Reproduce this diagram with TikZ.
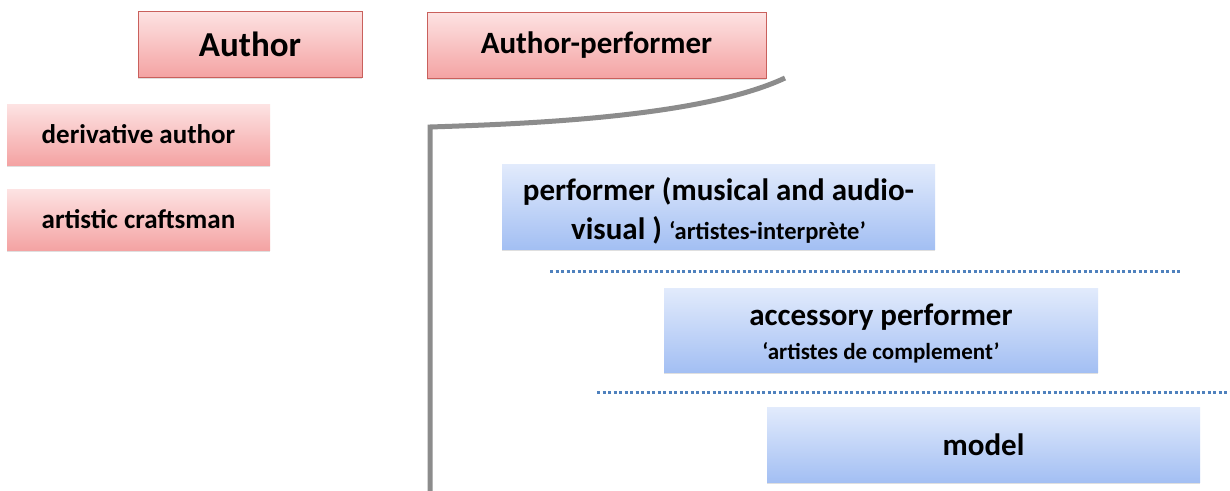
\documentclass[tikz,border=0pt]{standalone}
\usepackage{fontspec}
\setmainfont{Carlito}
\usetikzlibrary{shadows}
\definecolor{pinkT}{HTML}{FDE3E3}
\definecolor{pinkB}{HTML}{F4A3A3}
\definecolor{pinkD}{HTML}{C9605C}
\definecolor{blueT}{HTML}{E2EBFC}
\definecolor{blueB}{HTML}{A3BFF3}
\definecolor{dotblue}{HTML}{4F81BD}
\definecolor{linegray}{HTML}{8C8C8C}
\tikzset{
  pinkbox/.style={rectangle, top color=pinkT, bottom color=pinkB, inner sep=0pt,
    drop shadow={shadow xshift=0pt, shadow yshift=-2pt, opacity=0.25}},
  pinkframed/.style={pinkbox, draw=pinkD, line width=0.8pt},
  bluebox/.style={rectangle, top color=blueT, bottom color=blueB, inner sep=0pt, align=center,
    drop shadow={shadow xshift=0pt, shadow yshift=-2pt, opacity=0.25}},
  boxtext/.style={inner sep=0pt, align=center},
  sep/.style={dotblue, line width=3pt, dash pattern=on 3pt off 2.5pt},
  bar/.style={linegray, line width=5pt},
}
\begin{document}
\begin{tikzpicture}[x=1pt,y=-1pt]
\useasboundingbox (0,0) rectangle (1230,490);
\fill[white] (0,0) rectangle (1230,490);
\node[pinkframed, minimum width=224pt, minimum height=66pt, font=\bfseries\fontsize{35}{40}\selectfont] (author) at (250,44) {Author};
\node[pinkframed, minimum width=339pt, minimum height=66pt, font=\bfseries\fontsize{31}{36}\selectfont] (authperf) at (596.5,45) {Author-performer};
\node[pinkbox, minimum width=263pt, minimum height=61pt, font=\bfseries\fontsize{27}{32}\selectfont] (deriv) at (138.5,134.5) {derivative author};
\node[pinkbox, minimum width=263pt, minimum height=61pt, font=\bfseries\fontsize{27}{32}\selectfont] (craft) at (138.5,219.5) {artistic craftsman};
\node[bluebox, minimum width=433pt, minimum height=85pt] (perf) at (718.5,206.5) {};
\node[boxtext, font=\bfseries\fontsize{31}{39}\selectfont] (perftext) at ([yshift=-4pt]perf.center)
  {performer (musical and audio-\\visual ) {\fontsize{24.5}{39}\selectfont `artistes-interprète'}};
\node[bluebox, minimum width=434pt, minimum height=84pt] (acc) at (881,330) {};
\node[boxtext, font=\bfseries\fontsize{31}{34}\selectfont] (acctext) at ([yshift=-4pt]acc.center)
  {accessory performer\\{\fontsize{23}{34}\selectfont `artistes de complement'}};
\node[bluebox, minimum width=433pt, minimum height=75pt, font=\bfseries\fontsize{31}{36}\selectfont] (model) at (983.5,444.5) {model};
\coordinate (c1) at (785,78);
\coordinate (c2) at (430,127);
\coordinate (c3) at (430,492);
\draw[bar] (c1) .. controls (700,118) and (520,124) .. (c2) -- (c3);
\coordinate (d1a) at (550,271);
\coordinate (d1b) at (1182,271);
\coordinate (d2a) at (597,392);
\coordinate (d2b) at (1230,392);
\draw[sep] (d1a) -- (d1b);
\draw[sep] (d2a) -- (d2b);
\end{tikzpicture}
\end{document}
